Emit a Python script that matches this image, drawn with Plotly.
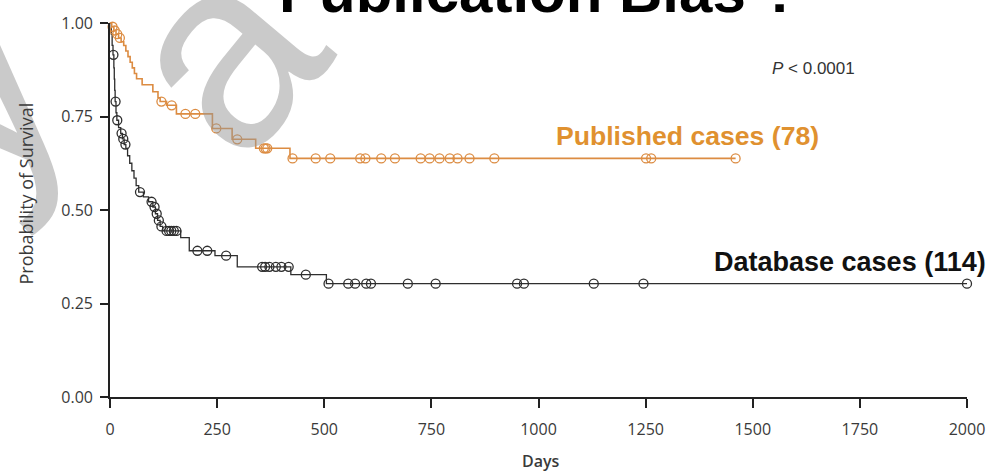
import numpy as np
import plotly.graph_objects as go

# Kaplan-Meier step data: event days and survival after each event
db_event_days = [0, 3, 5, 7, 9, 10, 11, 12, 14, 16, 20, 25, 29, 33, 37, 41, 46, 51, 56, 61,
                 67, 78, 90, 100, 106, 111, 117, 123, 165, 185, 245, 297, 422, 505]
db_surv = [1.0, 0.97, 0.94, 0.915, 0.88, 0.85, 0.82, 0.79, 0.76, 0.74, 0.72, 0.705, 0.69, 0.675,
           0.665, 0.645, 0.625, 0.605, 0.585, 0.565, 0.548, 0.535, 0.522, 0.508, 0.49, 0.472,
           0.456, 0.444, 0.426, 0.391, 0.378, 0.348, 0.327, 0.303]
db_censor_days = [8, 13, 17, 27, 31, 36, 70, 97, 104, 109, 114, 120, 132, 138, 143, 149, 155,
                  204, 227, 271, 355, 362, 372, 387, 400, 417, 457, 510, 556, 572, 598, 609,
                  695, 760, 950, 966, 1129, 1245, 2000]

pub_event_days = [0, 4, 9, 14, 20, 26, 32, 37, 42, 47, 52, 57, 62, 75, 100, 112, 117, 132,
                  155, 239, 285, 340, 420]
pub_surv = [1.0, 0.99, 0.98, 0.97, 0.96, 0.95, 0.94, 0.925, 0.91, 0.895, 0.88, 0.865, 0.851,
            0.835, 0.816, 0.80, 0.79, 0.78, 0.757, 0.718, 0.689, 0.665, 0.638]
pub_censor_days = [6, 11, 17, 23, 120, 144, 176, 199, 248, 297, 359, 363, 367, 426, 480, 514,
                   584, 596, 633, 665, 725, 746, 769, 793, 811, 839, 897, 1251, 1263, 1460]

x_ticks = [0, 250, 500, 750, 1000, 1250, 1500, 1750, 2000]
y_ticks = [0.0, 0.25, 0.5, 0.75, 1.0]

BLACK = "#2e2e2e"
ORANGE = "#dc8c42"
ORANGE_TXT = "#e0912f"
ARIAL = "Liberation Sans, Arial, sans-serif"
SANS = "Open Sans, sans-serif"


def surv_at(days, ev_days, ev_surv):
    idx = np.searchsorted(np.array(ev_days), np.array(days), side="right") - 1
    return np.array(ev_surv)[idx]


def step_xy(ev_days, ev_surv, censor_days):
    xs = list(ev_days) + [max(censor_days)]
    ys = list(ev_surv) + [ev_surv[-1]]
    return xs, ys


fig = go.Figure()

for ev_d, ev_s, cen, col, lw in [
    (db_event_days, db_surv, db_censor_days, BLACK, 1.3),
    (pub_event_days, pub_surv, pub_censor_days, ORANGE, 1.6),
]:
    sx, sy = step_xy(ev_d, ev_s, cen)
    fig.add_trace(go.Scatter(x=sx, y=sy, mode="lines", line=dict(color=col, width=lw, shape="hv"),
                             cliponaxis=False, hoverinfo="skip", showlegend=False))
    fig.add_trace(go.Scatter(x=cen, y=surv_at(cen, ev_d, ev_s), mode="markers",
                             marker=dict(symbol="circle-open", size=9, color=col,
                                         line=dict(width=1.3, color=col)),
                             cliponaxis=False, showlegend=False))

axis_font = dict(family=SANS, size=16, color="#3a3a3a")

fig.update_xaxes(range=[0, 2000], tickvals=x_ticks, showline=True, linecolor="#222",
                 linewidth=1.6, ticks="outside", ticklen=9, tickwidth=1.5, tickcolor="#222",
                 showgrid=False, zeroline=False, tickfont=axis_font, ticklabelstandoff=8)
fig.update_yaxes(range=[0, 1], tickvals=y_ticks, tickformat=".2f", showline=True,
                 linecolor="#222", linewidth=1.6, ticks="outside", ticklen=8, tickwidth=1.5,
                 tickcolor="#222", showgrid=False, zeroline=False, tickfont=axis_font,
                 ticklabelstandoff=4)

WM = "rgba(150,150,150,0.5)"
annotations = [
    # faint site watermark letters
    dict(text="y", x=-0.1669, y=0.835, xref="paper", yref="paper",
         xanchor="center", yanchor="middle", textangle=-45, showarrow=False,
         font=dict(family=ARIAL, size=280, color=WM)),
    dict(text="a", x=0.1275, y=0.923, xref="paper", yref="paper",
         xanchor="center", yanchor="middle", textangle=-50, showarrow=False,
         font=dict(family=ARIAL, size=270, color=WM)),
    dict(text="<b>Publication Bias ?</b>", x=0.5, y=0.99, xref="paper", yref="paper",
         xanchor="center", yanchor="bottom", showarrow=False,
         font=dict(family=ARIAL, size=60, color="#000")),
    dict(text="<i>P</i> &lt; 0.0001", x=0.8204, y=0.8777, xref="paper", yref="paper",
         xanchor="center", yanchor="middle", showarrow=False,
         font=dict(family=ARIAL, size=17, color="#333")),
    dict(text="<b>Published cases (78)</b>", x=0.674, y=0.699, xref="paper", yref="paper",
         xanchor="center", yanchor="middle", showarrow=False,
         font=dict(family=ARIAL, size=26.6, color=ORANGE_TXT)),
    dict(text="<b>Database cases (114)</b>", x=0.8633, y=0.362, xref="paper", yref="paper",
         xanchor="center", yanchor="middle", showarrow=False,
         font=dict(family=ARIAL, size=27, color="#111")),
    dict(text="Probability of Survival", x=-0.0985, y=0.543, xref="paper", yref="paper",
         xanchor="center", yanchor="middle", textangle=-90, showarrow=False,
         font=dict(family=SANS, size=18, color="#3a3a3a")),
    dict(text="Days", x=0.503, y=-0.172, xref="paper", yref="paper",
         xanchor="center", yanchor="middle", showarrow=False,
         font=dict(family=SANS, size=16, color="#3a3a3a", weight=600)),
]

fig.update_layout(
    width=997, height=471,
    margin=dict(l=110, r=24, t=21, b=74),
    paper_bgcolor="white", plot_bgcolor="white",
    annotations=annotations,
)

fig.write_html("out.html")
